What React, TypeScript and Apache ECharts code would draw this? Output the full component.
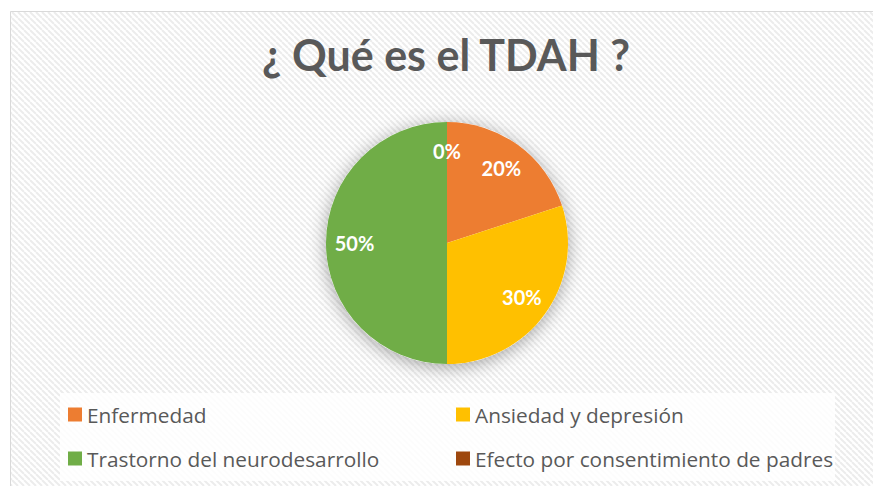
import React, { useEffect, useRef } from "react";
import * as echarts from "echarts";

const TITLE = "¿ Qué es el TDAH ?";
const CATEGORIES = [
  "Enfermedad",
  "Ansiedad y depresión",
  "Trastorno del neurodesarrollo",
  "Efecto por consentimiento de padres",
];
const VALUES = [20, 30, 50, 0];
const COLORS = ["#ED7D31", "#FFC000", "#70AD47", "#9E480E"];
const LEGEND_LEFT = ["Enfermedad", "Trastorno del neurodesarrollo"];
const LEGEND_RIGHT = ["Ansiedad y depresión", "Efecto por consentimiento de padres"];

const FONT = "Lato, 'Open Sans', sans-serif";
const LEGEND_FONT = "'Open Sans', sans-serif";

function makeHatch(): string {
  const c = document.createElement("canvas");
  const s = 6;
  c.width = s;
  c.height = s;
  const ctx = c.getContext("2d")!;
  ctx.fillStyle = "#ffffff";
  ctx.fillRect(0, 0, s, s);
  ctx.strokeStyle = "#ececec";
  ctx.lineWidth = 2;
  for (const off of [-s, 0, s]) {
    ctx.beginPath();
    ctx.moveTo(off, 0);
    ctx.lineTo(off + s, s);
    ctx.stroke();
  }
  return c.toDataURL();
}

export default function App() {
  const ref = useRef<HTMLDivElement>(null);
  useEffect(() => {
    if (!ref.current) return;
    const chart = echarts.init(ref.current, null, { renderer: "svg" });
    const hatch = makeHatch();
    const data = CATEGORIES.map((name, i) => ({
      name,
      value: VALUES[i],
      itemStyle: { color: COLORS[i] },
    }));
    const legendCommon = {
      orient: "vertical" as const,
      padding: 0,
      itemWidth: 14,
      itemHeight: 14,
      itemGap: 23,
      icon: "rect",
      selectedMode: false,
      textStyle: {
        color: "#595959",
        fontSize: 20.8,
        fontFamily: LEGEND_FONT,
        lineHeight: 18,
      },
    };
    chart.setOption({
      animation: false,
      backgroundColor: "#ffffff",
      graphic: [
        {
          type: "rect",
          z: -10,
          silent: true,
          shape: { x: 10.5, y: 11.5, width: 880, height: 500 },
          style: {
            fill: { image: hatch, repeat: "repeat" } as any,
            stroke: "#d9d9d9",
            lineWidth: 1,
          },
        },
        {
          type: "rect",
          z: -5,
          silent: true,
          shape: { x: 60, y: 393, width: 775, height: 88 },
          style: { fill: "rgba(255,255,255,0.85)" },
        },
      ],
      title: {
        text: TITLE,
        left: 446,
        top: 33,
        textAlign: "center",
        padding: 0,
        textStyle: {
          color: "#595959",
          fontSize: 43,
          fontWeight: "bold",
          fontFamily: FONT,
        },
      },
      legend: [
        { ...legendCommon, data: LEGEND_LEFT, left: 68, top: 404 },
        { ...legendCommon, data: LEGEND_RIGHT, left: 456, top: 404 },
      ],
      series: [
        {
          type: "pie",
          name: "shadow",
          silent: true,
          center: [447, 243],
          radius: [0, 121],
          label: { show: false },
          labelLine: { show: false },
          data: [{ name: "", value: 1 }],
          itemStyle: {
            color: "#ffffff",
            shadowBlur: 18,
            shadowOffsetY: 3,
            shadowColor: "rgba(0,0,0,0.35)",
          },
          z: 1,
        },
        {
          type: "pie",
          name: "TDAH",
          silent: true,
          center: [447, 243],
          radius: [0, 121],
          startAngle: 90,
          clockwise: true,
          label: { show: false },
          labelLine: { show: false },
          data,
          z: 2,
        },
        {
          type: "pie",
          name: "labels",
          silent: true,
          center: [447, 243],
          radius: [58, 121],
          startAngle: 90,
          clockwise: true,
          itemStyle: { color: "rgba(0,0,0,0)" },
          label: {
            show: true,
            position: "inside",
            formatter: "{d}%",
            color: "#ffffff",
            fontSize: 20,
            fontWeight: "bold",
            fontFamily: FONT,
          },
          labelLine: { show: false },
          data: CATEGORIES.map((name, i) => ({ name, value: VALUES[i] })),
          z: 3,
        },
      ],
    });
    return () => chart.dispose();
  }, []);
  return (
    <div
      ref={ref}
      style={{ position: "fixed", left: 0, top: 0, width: 873, height: 486 }}
    />
  );
}
